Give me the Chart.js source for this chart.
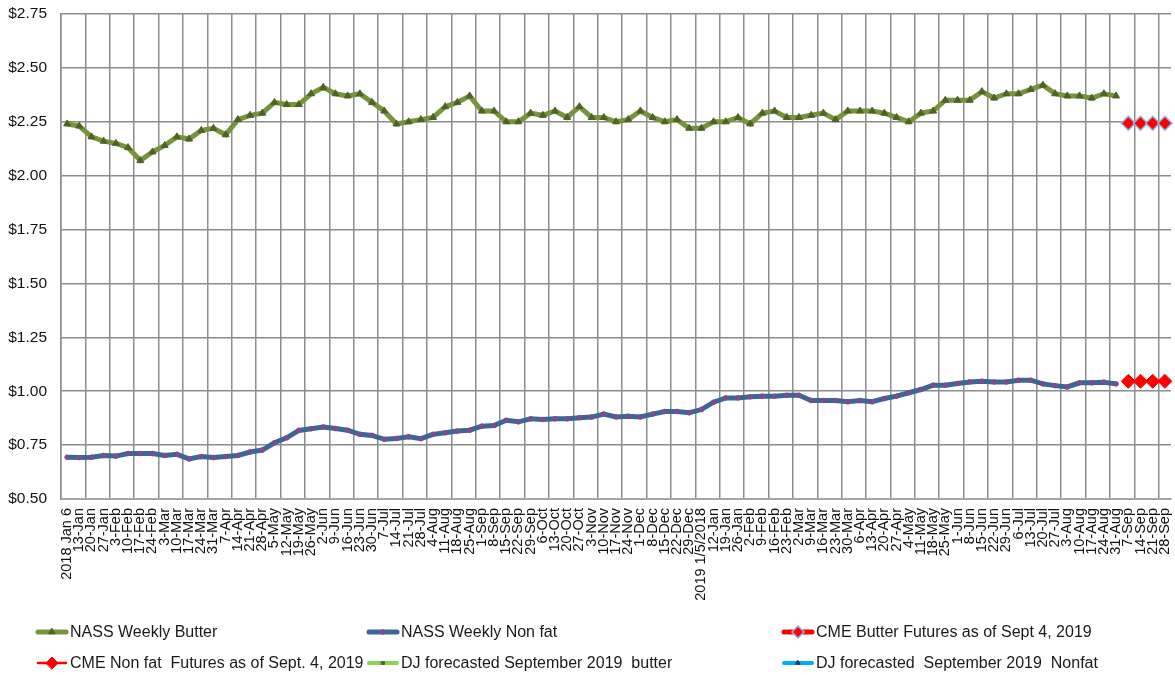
<!DOCTYPE html>
<html>
<head>
<meta charset="utf-8">
<script src="https://cdn.jsdelivr.net/npm/chart.js@4.4.0/dist/chart.umd.min.js"></script>
<style>
    html, body { margin: 0; padding: 0; background: #fff; }
    #wrap { width: 1175px; height: 675px; position: relative; }
</style>
</head>
<body>
<div id="wrap"><canvas id="priceChart"></canvas></div>
<script>
// Weekly categories (2018 Jan 6 .. 2019 28-Sep)
const weeks = [
    '2018 Jan 6','13-Jan','20-Jan','27-Jan','3-Feb','10-Feb','17-Feb','24-Feb','3-Mar','10-Mar',
    '17-Mar','24-Mar','31-Mar','7-Apr','14-Apr','21-Apr','28-Apr','5-May','12-May','19-May',
    '26-May','2-Jun','9-Jun','16-Jun','23-Jun','30-Jun','7-Jul','14-Jul','21-Jul','28-Jul',
    '4-Aug','11-Aug','18-Aug','25-Aug','1-Sep','8-Sep','15-Sep','22-Sep','29-Sep','6-Oct',
    '13-Oct','20-Oct','27-Oct','3-Nov','10-Nov','17-Nov','24-Nov','1-Dec','8-Dec','15-Dec',
    '22-Dec','29-Dec',
    '2019 1/5/2018','12-Jan','19-Jan','26-Jan','2-Feb','9-Feb','16-Feb','23-Feb','2-Mar','9-Mar',
    '16-Mar','23-Mar','30-Mar','6-Apr','13-Apr','20-Apr','27-Apr','4-May','11-May','18-May',
    '25-May','1-Jun','8-Jun','15-Jun','22-Jun','29-Jun','6-Jul','13-Jul','20-Jul','27-Jul',
    '3-Aug','10-Aug','17-Aug','24-Aug','31-Aug','7-Sep','14-Sep','21-Sep','28-Sep'
];

// NASS weekly butter ($/lb)
const butter = [
    2.24, 2.23, 2.18, 2.16, 2.15, 2.13, 2.07, 2.11, 2.14, 2.18,
    2.17, 2.21, 2.22, 2.19, 2.26, 2.28, 2.29, 2.34, 2.33, 2.33,
    2.38, 2.41, 2.38, 2.37, 2.38, 2.34, 2.30, 2.24, 2.25, 2.26,
    2.27, 2.32, 2.34, 2.37, 2.30, 2.30, 2.25, 2.25, 2.29, 2.28,
    2.30, 2.27, 2.32, 2.27, 2.27, 2.25, 2.26, 2.30, 2.27, 2.25,
    2.26, 2.22, 2.22, 2.25, 2.25, 2.27, 2.24, 2.29, 2.30, 2.27,
    2.27, 2.28, 2.29, 2.26, 2.30, 2.30, 2.30, 2.29, 2.27, 2.25,
    2.29, 2.30, 2.35, 2.35, 2.35, 2.39, 2.36, 2.38, 2.38, 2.40,
    2.42, 2.38, 2.37, 2.37, 2.36, 2.38, 2.37
];

// NASS weekly non fat dry milk ($/lb)
const nonfat = [
    0.694, 0.692, 0.694, 0.702, 0.699, 0.711, 0.711, 0.711, 0.702, 0.707,
    0.686, 0.697, 0.692, 0.697, 0.702, 0.718, 0.727, 0.761, 0.784, 0.818,
    0.826, 0.834, 0.827, 0.819, 0.800, 0.795, 0.777, 0.781, 0.789, 0.780,
    0.800, 0.807, 0.815, 0.819, 0.838, 0.841, 0.865, 0.858, 0.872, 0.869,
    0.872, 0.872, 0.877, 0.880, 0.894, 0.881, 0.884, 0.881, 0.894, 0.906,
    0.906, 0.900, 0.915, 0.949, 0.969, 0.969, 0.974, 0.977, 0.977, 0.981,
    0.981, 0.957, 0.957, 0.957, 0.951, 0.957, 0.951, 0.966, 0.977, 0.993,
    1.008, 1.028, 1.028, 1.036, 1.043, 1.046, 1.043, 1.043, 1.051, 1.051,
    1.034, 1.026, 1.020, 1.039, 1.039, 1.042, 1.034
];

// CME futures as of Sept 4, 2019
const futureWeeks = ['7-Sep', '14-Sep', '21-Sep', '28-Sep'];
const cmeButter = [2.243, 2.243, 2.243, 2.243];
const cmeNonfat = [1.046, 1.046, 1.046, 1.046];

// DJ forecasts (no points visible on the chart)
const djButter = [];
const djNonfat = [];

// Y axis tick labels
const yTicks = [0.50, 0.75, 1.00, 1.25, 1.50, 1.75, 2.00, 2.25, 2.50, 2.75];

const FONT = "'Liberation Sans', Arial, sans-serif";
const GRID = '#8c8c8c';

// Legend in 3 columns x 2 rows like the original
const gridLegend = {
    id: 'gridLegend',
    afterDraw(chart) {
        const ctx = chart.ctx;
        const cols = [36, 367, 782];
        const rows = [632, 663];
        chart.data.datasets.forEach((ds, i) => {
            const x = cols[i % 3];
            const y = rows[Math.floor(i / 3)];
            ctx.save();
            ctx.strokeStyle = ds.borderColor;
            ctx.lineWidth = ds.legendLineWidth || ds.borderWidth;
            ctx.lineCap = 'round';
            ctx.beginPath();
            ctx.moveTo(x + 2, y);
            ctx.lineTo(x + 30, y);
            ctx.stroke();

            ctx.fillStyle = ds.pointBackgroundColor;
            ctx.strokeStyle = ds.pointBorderColor;
            ctx.lineWidth = ds.pointBorderWidth || 1;
            Chart.helpers.drawPoint(ctx, {
                pointStyle: ds.pointStyle,
                radius: ds.legendPointRadius || ds.pointRadius,
                borderWidth: ds.pointBorderWidth || 1,
                rotation: 0
            }, x + 16, y);

            ctx.fillStyle = '#1a1a1a';
            ctx.font = '16px ' + FONT;
            ctx.textBaseline = 'middle';
            ctx.textAlign = 'left';
            ctx.fillText(ds.label, x + 34, y + 1);
            ctx.restore();
        });
    }
};

const toPoints = (ws, vals) => ws.map((w, i) => ({ x: w, y: vals[i] }));

document.addEventListener('DOMContentLoaded', function() {
    const ctx = document.getElementById('priceChart').getContext('2d');
    new Chart(ctx, {
        type: 'line',
        data: {
            labels: weeks,
            datasets: [
                {
                    label: 'NASS Weekly Butter',
                    data: butter,
                    borderColor: '#77933C',
                    borderWidth: 5,
                    pointStyle: 'triangle',
                    pointRadius: 4,
                    legendPointRadius: 3.5,
                    pointBackgroundColor: '#4F6228',
                    pointBorderColor: '#4F6228',
                    pointBorderWidth: 1,
                    tension: 0
                },
                {
                    label: 'NASS Weekly Non fat',
                    data: nonfat,
                    borderColor: '#3A6797',
                    borderWidth: 5,
                    pointStyle: 'circle',
                    pointRadius: 2.3,
                    pointBackgroundColor: '#7A4E8C',
                    pointBorderColor: '#7A4E8C',
                    pointBorderWidth: 1,
                    tension: 0
                },
                {
                    label: 'CME Butter Futures as of Sept 4, 2019',
                    data: toPoints(futureWeeks, cmeButter),
                    borderColor: '#FF0000',
                    borderWidth: 3,
                    legendLineWidth: 5,
                    pointStyle: 'rectRot',
                    pointRadius: 7,
                    legendPointRadius: 6,
                    pointBackgroundColor: '#FF0000',
                    pointBorderColor: '#8DB4E2',
                    pointBorderWidth: 1.5,
                    tension: 0
                },
                {
                    label: 'CME Non fat  Futures as of Sept. 4, 2019',
                    data: toPoints(futureWeeks, cmeNonfat),
                    borderColor: '#FF0000',
                    borderWidth: 2.5,
                    pointStyle: 'rectRot',
                    pointRadius: 7,
                    legendPointRadius: 6,
                    pointBackgroundColor: '#FF0000',
                    pointBorderColor: '#FF0000',
                    pointBorderWidth: 1,
                    tension: 0
                },
                {
                    label: 'DJ forecasted September 2019  butter',
                    data: djButter,
                    borderColor: '#92D050',
                    borderWidth: 4,
                    pointStyle: 'rect',
                    pointRadius: 2,
                    pointBackgroundColor: '#4F6228',
                    pointBorderColor: '#4F6228',
                    pointBorderWidth: 1
                },
                {
                    label: 'DJ forecasted  September 2019  Nonfat',
                    data: djNonfat,
                    borderColor: '#00B0F0',
                    borderWidth: 4,
                    pointStyle: 'triangle',
                    pointRadius: 2.5,
                    pointBackgroundColor: '#1F3864',
                    pointBorderColor: '#1F3864',
                    pointBorderWidth: 1
                }
            ]
        },
        options: {
            responsive: true,
            maintainAspectRatio: false,
            animation: false,
            layout: {
                autoPadding: false,
                padding: { top: 14, right: 4, left: 0, bottom: 0 }
            },
            plugins: {
                legend: { display: false },
                tooltip: { enabled: false }
            },
            scales: {
                x: {
                    type: 'category',
                    offset: true,
                    afterFit: function(scale) {
                        scale.height = 176;
                        scale.paddingLeft = 0;
                        scale.paddingRight = 0;
                    },
                    grid: {
                        offset: true,
                        drawTicks: false,
                        lineWidth: 1.5,
                        color: function(c) {
                            return c.index % 2 === 0 ? GRID : 'rgba(0,0,0,0)';
                        }
                    },
                    border: { color: '#a6a6a6', width: 2 },
                    ticks: {
                        autoSkip: false,
                        minRotation: 90,
                        maxRotation: 90,
                        padding: 9,
                        color: '#111',
                        font: { family: FONT, size: 14.5 }
                    }
                },
                y: {
                    min: 0.5,
                    max: 2.75,
                    afterFit: function(scale) {
                        scale.width = 61;
                        scale.paddingTop = 0;
                        scale.paddingBottom = 0;
                    },
                    afterBuildTicks: function(scale) {
                        scale.ticks = yTicks.map(v => ({ value: v }));
                    },
                    grid: {
                        drawTicks: false,
                        lineWidth: 1.6,
                        color: GRID
                    },
                    border: { color: GRID, width: 1.5 },
                    ticks: {
                        padding: 14,
                        color: '#111',
                        font: { family: FONT, size: 15.5 },
                        callback: function(v) {
                            return '$' + Number(v).toFixed(2);
                        }
                    }
                }
            }
        },
        plugins: [gridLegend]
    });
});
</script>
</body>
</html>
